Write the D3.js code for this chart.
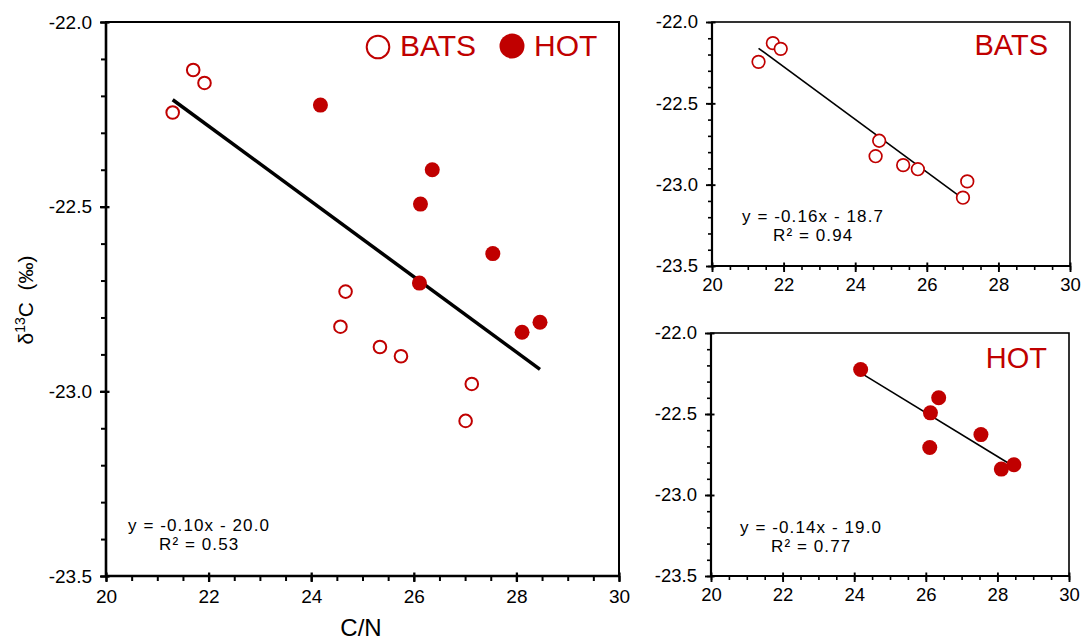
<!DOCTYPE html>
<html lang="en">
<head>
    <meta charset="UTF-8">
    <script src="https://cdn.jsdelivr.net/npm/d3@7"></script>
    <title>d13C vs C/N</title>
    <style>
        body { margin: 0; background: #fff; }
        svg text { font-family: "Liberation Sans", Arial, Helvetica, sans-serif; }
    </style>
</head>
<body>
    <svg id="chart" width="1083" height="641"></svg>

    <script>
        // data
        const batsCN   = [21.30, 21.70, 21.92, 24.57, 24.67, 25.34, 25.75, 27.13, 27.01];
        const batsD13C = [-22.245, -22.13, -22.165, -22.825, -22.73, -22.88, -22.905, -22.98, -23.08];
        const hotCN    = [24.18, 26.36, 26.13, 27.54, 26.11, 28.11, 28.46];
        const hotD13C  = [-22.225, -22.40, -22.493, -22.627, -22.707, -22.84, -22.813];

        const xTicks = [20, 22, 24, 26, 28, 30];
        const yTicks = [-22.0, -22.5, -23.0, -23.5];
        const xMinor = d3.range(20, 30.01, 0.5);
        const yMinor = d3.range(-23.5, -21.99, 0.1);

        const eqAll  = ['y = -0.10x - 20.0', 'R² = 0.53'];
        const eqBats = ['y = -0.16x - 18.7', 'R² = 0.94'];
        const eqHot  = ['y = -0.14x - 19.0', 'R² = 0.77'];

        const red = '#c00000';
        const svg = d3.select('#chart');

        const bats = batsCN.map((x, i) => ({x: x, y: batsD13C[i]}));
        const hot = hotCN.map((x, i) => ({x: x, y: hotD13C[i]}));

        // least squares fit
        function fit(pts) {
            const mx = d3.mean(pts, d => d.x), my = d3.mean(pts, d => d.y);
            let sxy = 0, sxx = 0;
            pts.forEach(d => { sxy += (d.x - mx) * (d.y - my); sxx += (d.x - mx) ** 2; });
            const b = sxy / sxx;
            const a = my - b * mx;
            const x0 = d3.min(pts, d => d.x), x1 = d3.max(pts, d => d.x);
            return [{x: x0, y: a + b * x0}, {x: x1, y: a + b * x1}];
        }

        function panel(box, opt) {
            const x = d3.scaleLinear().domain([20, 30]).range([box.l, box.r]);
            const y = d3.scaleLinear().domain([-22, -23.5]).range([box.t, box.b]);
            const g = svg.append('g');

            // frame
            g.append('rect')
                .attr('x', box.l).attr('y', box.t)
                .attr('width', box.r - box.l).attr('height', box.b - box.t)
                .attr('fill', 'none').attr('stroke', '#000').attr('stroke-width', opt.frame);

            // minor ticks
            g.append('g').attr('transform', 'translate(0,' + box.b + ')')
                .call(d3.axisBottom(x).tickValues(xMinor).tickSize(opt.minor).tickFormat(''))
                .call(a => a.select('.domain').remove())
                .selectAll('line').attr('stroke-width', opt.tickW);
            g.append('g').attr('transform', 'translate(' + box.l + ',0)')
                .call(d3.axisLeft(y).tickValues(yMinor).tickSize(opt.minor).tickFormat(''))
                .call(a => a.select('.domain').remove())
                .selectAll('line').attr('stroke-width', opt.tickW);

            // major ticks + labels
            const xa = g.append('g').attr('transform', 'translate(0,' + box.b + ')')
                .call(d3.axisBottom(x).tickValues(xTicks).tickSize(opt.major).tickPadding(opt.xPad).tickFormat(d => d));
            xa.select('.domain').remove();
            xa.selectAll('line').attr('y1', -3.5).attr('stroke-width', opt.tickW + 0.3);
            xa.selectAll('text').attr('font-size', opt.font).attr('fill', '#000')
                .attr('font-family', '"Liberation Sans", Arial, sans-serif');

            const ya = g.append('g').attr('transform', 'translate(' + box.l + ',0)')
                .call(d3.axisLeft(y).tickValues(yTicks).tickSize(opt.major).tickPadding(opt.yPad).tickFormat(d => d.toFixed(1)));
            ya.select('.domain').remove();
            ya.selectAll('line').attr('x1', 3.5).attr('stroke-width', opt.tickW + 0.3);
            ya.selectAll('text').attr('font-size', opt.font).attr('fill', '#000')
                .attr('font-family', '"Liberation Sans", Arial, sans-serif');

            // axis lines drawn on top of the frame a bit heavier
            g.append('line').attr('x1', box.l).attr('x2', box.l).attr('y1', box.t).attr('y2', box.b)
                .attr('stroke', '#000').attr('stroke-width', opt.axisW);
            g.append('line').attr('x1', box.l).attr('x2', box.r).attr('y1', box.b).attr('y2', box.b)
                .attr('stroke', '#000').attr('stroke-width', opt.axisW);

            // regression
            const line = d3.line().x(d => x(d.x)).y(d => y(d.y));
            g.append('path').attr('d', line(fit(opt.fitPts)))
                .attr('fill', 'none').attr('stroke', '#000').attr('stroke-width', opt.lineW);

            // points
            if (opt.bats) {
                g.selectAll('.bats').data(opt.bats).enter().append('circle')
                    .attr('cx', d => x(d.x)).attr('cy', d => y(d.y)).attr('r', opt.rOpen)
                    .attr('fill', '#fff').attr('stroke', red).attr('stroke-width', opt.ringW);
            }
            if (opt.hot) {
                g.selectAll('.hot').data(opt.hot).enter().append('circle')
                    .attr('cx', d => x(d.x)).attr('cy', d => y(d.y)).attr('r', opt.rFill)
                    .attr('fill', red);
            }

            // equation
            g.append('text').attr('x', opt.eq.x).attr('y', opt.eq.y)
                .attr('font-size', 17).attr('letter-spacing', 1.1).attr('fill', '#000').text(opt.eq.lines[0]);
            g.append('text').attr('x', opt.eq.x + 31).attr('y', opt.eq.y + 19)
                .attr('font-size', 17).attr('letter-spacing', 1.1).attr('fill', '#000').text(opt.eq.lines[1]);
            return g;
        }

        // main panel
        const main = panel({l: 106, r: 619, t: 22, b: 576}, {
            frame: 2, axisW: 2.6, tickW: 2, major: 6, minor: 5, xPad: 8, yPad: 8, font: 19,
            lineW: 3.5, rOpen: 6.3, ringW: 2, rFill: 7.5,
            fitPts: bats.concat(hot), bats: bats, hot: hot,
            eq: {x: 128, y: 531, lines: eqAll}
        });

        // legend
        main.append('circle').attr('cx', 378).attr('cy', 47).attr('r', 11.3)
            .attr('fill', 'none').attr('stroke', red).attr('stroke-width', 2);
        main.append('text').attr('x', 400).attr('y', 56).attr('font-size', 30).attr('fill', red).text('BATS');
        main.append('circle').attr('cx', 512).attr('cy', 46).attr('r', 12.5).attr('fill', red);
        main.append('text').attr('x', 534).attr('y', 56).attr('font-size', 30).attr('fill', red).text('HOT');

        // axis titles
        svg.append('text').attr('x', 361).attr('y', 636).attr('text-anchor', 'middle')
            .attr('font-size', 24).attr('fill', '#000').text('C/N');
        const yt = svg.append('text').attr('transform', 'translate(33,300) rotate(-90)')
            .attr('text-anchor', 'middle').attr('font-size', 21).attr('fill', '#000')
            .style('white-space', 'pre');
        yt.append('tspan').text('δ');
        yt.append('tspan').attr('font-size', 14).attr('dy', -8).text('13');
        yt.append('tspan').attr('dy', 8).text('C  (‰)');

        // BATS panel
        const pb = panel({l: 712, r: 1070, t: 22, b: 266}, {
            frame: 1.6, axisW: 2.2, tickW: 1.6, major: 6, minor: 4, xPad: 6, yPad: 8, font: 18.5,
            lineW: 1.6, rOpen: 6.3, ringW: 1.7, rFill: 7.5,
            fitPts: bats, bats: bats,
            eq: {x: 742, y: 222, lines: eqBats}
        });
        pb.append('text').attr('x', 1048).attr('y', 55).attr('text-anchor', 'end')
            .attr('font-size', 29).attr('fill', red).text('BATS');

        // HOT panel
        const ph = panel({l: 711, r: 1069, t: 333, b: 576}, {
            frame: 1.6, axisW: 2.2, tickW: 1.6, major: 6, minor: 4, xPad: 6, yPad: 8, font: 18.5,
            lineW: 1.6, rOpen: 6.3, ringW: 1.7, rFill: 7.5,
            fitPts: hot, hot: hot,
            eq: {x: 740, y: 533, lines: eqHot}
        });
        ph.append('text').attr('x', 1047).attr('y', 368).attr('text-anchor', 'end')
            .attr('font-size', 29).attr('fill', red).text('HOT');
    </script>
</body>
</html>
